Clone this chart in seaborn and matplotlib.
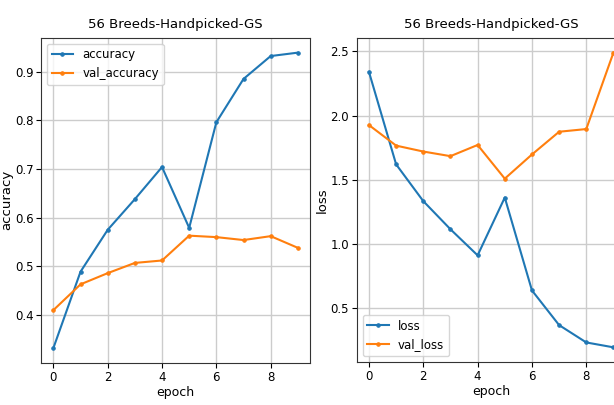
"""
Accuracy / loss curves, 56 Breeds-Handpicked-GS.
"""

import numpy as np
import pandas as pd
import matplotlib
matplotlib.use("Agg")
import matplotlib.pyplot as plt
import seaborn as sns

epochs = list(range(10))
accuracy = [0.332, 0.489, 0.575, 0.638, 0.704, 0.579, 0.796, 0.885, 0.932, 0.939]
val_accuracy = [0.410, 0.463, 0.486, 0.507, 0.512, 0.563, 0.560, 0.554, 0.562, 0.538]
loss = [2.34, 1.62, 1.334, 1.115, 0.912, 1.362, 0.639, 0.369, 0.234, 0.196]
val_loss = [1.926, 1.766, 1.720, 1.684, 1.771, 1.509, 1.697, 1.874, 1.895, 2.49]

title = "56 Breeds-Handpicked-GS"

plt.rcParams["font.family"] = ["DejaVu Sans"]

fig = plt.figure(figsize=(6.14, 4.05), dpi=100)
ax1 = fig.add_axes([0.067, 0.104, 0.438, 0.8025])
ax2 = fig.add_axes([0.581, 0.106, 0.438, 0.8005])

for ax, (tr, va), (n1, n2) in zip(
    [ax1, ax2],
    [(accuracy, val_accuracy), (loss, val_loss)],
    [("accuracy", "val_accuracy"), ("loss", "val_loss")],
):
    df = pd.DataFrame({"epoch": epochs, n1: tr, n2: va})
    sns.lineplot(data=df, x="epoch", y=n1, ax=ax, color="tab:blue",
                 marker=".", markersize=5, markeredgecolor="tab:blue", label=n1)
    sns.lineplot(data=df, x="epoch", y=n2, ax=ax, color="tab:orange",
                 marker=".", markersize=5, markeredgecolor="tab:orange", label=n2)
    ax.set_title(title, fontsize=9.5, pad=7)
    ax.set_xlabel("epoch", fontsize=9, labelpad=2)
    ax.set_ylabel(n1, fontsize=9.5, labelpad=1)
    ax.tick_params(labelsize=8.5, pad=2)
    ax.set_xticks([0, 2, 4, 6, 8])
    ax.grid(True, color="#cccccc", linewidth=1)
    for s in ax.spines.values():
        s.set_color("#333333")

ax1.legend(loc="upper left", fontsize=8.5, handlelength=1.8)
ax2.legend(loc="lower left", fontsize=8.5, handlelength=1.8)

plt.savefig("out.png", dpi=100)
plt.close()
